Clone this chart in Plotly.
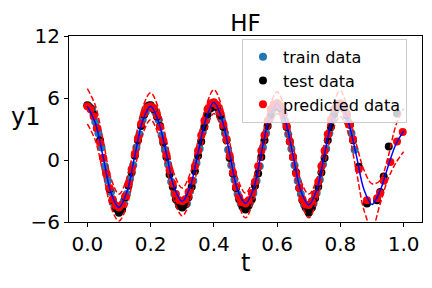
import plotly.graph_objects as go

# ---- data ----
line_t = [0.0, 0.025, 0.05, 0.075, 0.1, 0.125, 0.15, 0.175, 0.2, 0.225,
          0.25, 0.275, 0.3, 0.325, 0.35, 0.375, 0.4, 0.425, 0.45, 0.475,
          0.5, 0.525, 0.55, 0.575, 0.6, 0.625, 0.65, 0.675, 0.7, 0.725,
          0.75, 0.775, 0.8, 0.825, 0.85, 0.875, 0.9, 0.925, 0.95, 0.975, 1.0]
mean_y = [5.2, 3.6, 0.3, -3.2, -4.6, -3.1, 0.4, 3.8, 5.2, 3.7,
          0.6, -2.7, -4.0, -2.6, 0.7, 4.0, 5.6, 4.0, 0.6, -2.9,
          -4.2, -2.8, 0.7, 4.0, 5.5, 3.9, 0.5, -3.0, -4.35, -2.9,
          0.6, 4.0, 5.5, 3.7, 0.5, -2.9, -4.3, -3.0, -0.7, 1.5, 2.8]
upper_y = [6.9, 5.3, 1.9, -1.8, -3.3, -1.8, 1.7, 5.1, 6.5, 5.0,
           1.9, -1.4, -2.7, -1.3, 1.9, 5.2, 6.8, 5.2, 1.7, -1.8,
           -3.2, -1.8, 1.7, 5.0, 6.6, 4.9, 1.5, -2.0, -3.3, -1.9,
           1.7, 5.2, 6.7, 4.6, 1.6, -1.0, -2.3, -2.0, 0.2, 3.3, 5.0]
lower_y = [3.5, 1.9, -1.3, -4.6, -5.9, -4.4, -0.9, 2.5, 3.9, 2.4,
           -0.7, -4.0, -5.4, -3.9, -0.5, 2.8, 4.5, 2.9, -0.5, -4.0,
           -5.6, -3.9, -0.3, 3.0, 4.5, 2.9, -0.5, -4.0, -5.6, -4.0,
           -0.5, 2.8, 4.2, 2.6, -1.0, -4.9, -6.6, -4.3, -1.9, -0.3, 0.8]

train_t = [0.005, 0.015, 0.025, 0.035, 0.045, 0.055, 0.065, 0.075, 0.085, 0.095,
           0.105, 0.115, 0.125, 0.135, 0.145, 0.155, 0.165, 0.175, 0.185, 0.195,
           0.205, 0.215, 0.225, 0.235, 0.245, 0.255, 0.265, 0.275, 0.285, 0.295,
           0.305, 0.315, 0.325, 0.335, 0.345, 0.355, 0.365, 0.375, 0.385, 0.395,
           0.405, 0.415, 0.425, 0.435, 0.445, 0.455, 0.465, 0.475, 0.485, 0.495,
           0.505, 0.515, 0.525, 0.535, 0.545, 0.555, 0.565, 0.575, 0.585, 0.595,
           0.605, 0.615, 0.625, 0.635, 0.645, 0.655, 0.665, 0.675, 0.685, 0.695,
           0.705, 0.715, 0.725, 0.735, 0.745, 0.755, 0.765, 0.775, 0.785, 0.795,
           0.805, 0.815, 0.825, 0.835, 0.845]
train_y = [5.2, 4.9, 3.7, 2.6, 1.2, -0.6, -2.0, -3.1, -4.3, -4.8,
           -4.7, -4.0, -3.3, -1.8, -0.5, 1.2, 2.5, 3.9, 4.7, 5.3,
           5.1, 4.6, 3.9, 2.4, 1.0, -0.4, -2.1, -3.3, -4.0, -4.5,
           -4.4, -4.2, -3.0, -2.0, -0.3, 1.1, 2.7, 3.8, 4.9, 5.4,
           5.4, 4.8, 3.9, 2.6, 1.0, -0.5, -1.9, -3.3, -4.2, -4.6,
           -4.6, -4.1, -3.2, -2.0, -0.6, 1.2, 2.6, 3.9, 4.8, 5.4,
           5.3, 4.7, 3.8, 2.5, 1.1, -0.5, -2.0, -3.3, -4.3, -4.8,
           -4.7, -4.2, -3.2, -1.9, -0.4, 1.1, 2.6, 3.9, 4.8, 5.3,
           5.2, 4.8, 3.7, 2.6, 1.0]

test_t = [0.0, 0.01, 0.02, 0.03, 0.04, 0.05, 0.06, 0.07, 0.08, 0.09,
          0.1, 0.11, 0.12, 0.13, 0.14, 0.15, 0.16, 0.17, 0.18, 0.19,
          0.2, 0.21, 0.22, 0.23, 0.24, 0.25, 0.26, 0.27, 0.28, 0.29,
          0.3, 0.31, 0.32, 0.33, 0.34, 0.35, 0.36, 0.37, 0.38, 0.39,
          0.4, 0.41, 0.42, 0.43, 0.44, 0.45, 0.46, 0.47, 0.48, 0.49,
          0.5, 0.51, 0.52, 0.53, 0.54, 0.55, 0.56, 0.57, 0.58, 0.59,
          0.6, 0.61, 0.62, 0.63, 0.64, 0.65, 0.66, 0.67, 0.68, 0.69,
          0.7, 0.71, 0.72, 0.73, 0.74, 0.75, 0.76, 0.77, 0.78, 0.79,
          0.8, 0.81, 0.82, 0.83, 0.84, 0.858, 0.884, 0.916, 0.926, 0.937,
          0.953, 0.979]
test_y = [5.3, 5.0, 4.4, 3.1, 1.9, 0.2, -1.3, -2.8, -3.9, -4.7,
          -5.1, -4.8, -3.6, -2.5, -1.2, 0.4, 1.9, 3.3, 4.4, 5.2,
          5.3, 4.9, 4.2, 3.3, 1.7, 0.3, -1.4, -2.6, -3.8, -4.4,
          -4.6, -4.3, -3.6, -2.6, -1.1, 0.4, 1.8, 3.2, 4.4, 5.0,
          5.4, 5.1, 4.3, 3.2, 1.9, 0.2, -1.3, -2.7, -3.8, -4.5,
          -4.8, -4.4, -3.8, -2.5, -1.3, 0.3, 1.9, 3.3, 4.3, 5.1,
          5.5, 5.0, 4.4, 3.2, 1.8, 0.3, -1.2, -2.7, -3.9, -4.6,
          -5.1, -4.6, -3.7, -2.6, -1.2, 0.2, 1.9, 3.2, 4.4, 5.1,
          5.4, 5.0, 4.3, 3.4, 1.9, -0.65, -4.2, -3.9, -3.1, -1.6,
          1.3, 4.5]

pred_t = [0.0, 0.01, 0.02, 0.03, 0.04, 0.05, 0.06, 0.07, 0.08, 0.09,
          0.1, 0.11, 0.12, 0.13, 0.14, 0.15, 0.16, 0.17, 0.18, 0.19,
          0.2, 0.21, 0.22, 0.23, 0.24, 0.25, 0.26, 0.27, 0.28, 0.29,
          0.3, 0.31, 0.32, 0.33, 0.34, 0.35, 0.36, 0.37, 0.38, 0.39,
          0.4, 0.41, 0.42, 0.43, 0.44, 0.45, 0.46, 0.47, 0.48, 0.49,
          0.5, 0.51, 0.52, 0.53, 0.54, 0.55, 0.56, 0.57, 0.58, 0.59,
          0.6, 0.61, 0.62, 0.63, 0.64, 0.65, 0.66, 0.67, 0.68, 0.69,
          0.7, 0.71, 0.72, 0.73, 0.74, 0.75, 0.76, 0.77, 0.78, 0.79,
          0.8, 0.81, 0.82, 0.83, 0.84, 0.858, 0.884, 0.916, 0.926, 0.937,
          0.958, 0.979, 0.997]
pred_y = [5.2, 4.9, 4.2, 3.1, 1.7, 0.2, -1.3, -2.7, -3.8, -4.4,
          -4.6, -4.3, -3.5, -2.3, -0.9, 0.6, 2.1, 3.5, 4.5, 5.1,
          5.2, 5.0, 4.3, 3.2, 1.9, 0.5, -1.0, -2.3, -3.3, -3.9,
          -4.0, -3.8, -3.1, -2.0, -0.6, 0.9, 2.4, 3.8, 4.9, 5.5,
          5.6, 5.3, 4.6, 3.4, 2.0, 0.4, -1.2, -2.6, -3.6, -4.1,
          -4.2, -3.9, -3.2, -2.1, -0.6, 0.9, 2.4, 3.8, 4.9, 5.4,
          5.5, 5.2, 4.4, 3.3, 1.8, 0.3, -1.3, -2.7, -3.8, -4.3,
          -4.35, -4.0, -3.3, -2.1, -0.6, 0.9, 2.5, 3.9, 4.9, 5.4,
          5.5, 5.2, 4.5, 3.4, 2.0, -0.9, -3.9, -3.7, -3.2, -2.0,
          -0.2, 1.8, 2.7]

x_ticks = [0.0, 0.2, 0.4, 0.6, 0.8, 1.0]
x_tick_text = ["0.0", "0.2", "0.4", "0.6", "0.8", "1.0"]
y_ticks = [-6, 0, 6, 12]
y_tick_text = ["\u22126", "0", "6", "12"]

FONT = "DejaVu Sans"
MS = 8

fig = go.Figure()
fig.add_trace(go.Scatter(x=train_t, y=train_y, mode="markers", name="train data",
                         marker=dict(color="#1f77b4", size=MS, line=dict(width=0))))
fig.add_trace(go.Scatter(x=test_t, y=test_y, mode="markers", name="test data",
                         marker=dict(color="black", size=MS, line=dict(width=0))))
fig.add_trace(go.Scatter(x=pred_t, y=pred_y, mode="markers", name="predicted data",
                         marker=dict(color="red", size=MS, line=dict(width=0))))
fig.add_trace(go.Scatter(x=line_t, y=mean_y, mode="lines", showlegend=False,
                         line=dict(color="blue", width=1.5, shape="spline")))
fig.add_trace(go.Scatter(x=line_t, y=upper_y, mode="lines", showlegend=False,
                         line=dict(color="red", width=1.5, dash="5.5px,2.4px", shape="spline")))
fig.add_trace(go.Scatter(x=line_t, y=lower_y, mode="lines", showlegend=False,
                         line=dict(color="red", width=1.5, dash="5.5px,2.4px", shape="spline")))

axis_common = dict(showgrid=False, zeroline=False, showline=True, linecolor="black",
                   linewidth=1, mirror=True, ticks="outside", ticklen=4, tickwidth=1,
                   tickcolor="black", automargin=False,
                   tickfont=dict(family=FONT, size=20, color="black"))

fig.update_layout(
    width=432, height=288,
    margin=dict(l=69, r=10, t=36, b=66, autoexpand=False),
    paper_bgcolor="white", plot_bgcolor="white",
    font=dict(family=FONT, color="black"),
    title=dict(text="HF", x=0.5, xref="paper", xanchor="center",
               y=1 - 23 / 288, yanchor="middle", font=dict(family=FONT, size=23)),
    xaxis=dict(range=[-0.058, 1.058], tickvals=x_ticks, ticktext=x_tick_text, **axis_common),
    yaxis=dict(range=[-6, 12], tickvals=y_ticks, ticktext=y_tick_text, **axis_common),
    legend=dict(x=0.49, y=0.985, xanchor="left", yanchor="top",
                bgcolor="rgba(255,255,255,0.8)", bordercolor="#cccccc", borderwidth=1,
                font=dict(family=FONT, size=16), tracegroupgap=0),
    showlegend=True,
    annotations=[
        dict(text="y1", xref="paper", yref="paper", x=-0.122, y=0.565,
             xanchor="center", yanchor="middle", showarrow=False,
             font=dict(family=FONT, size=24)),
        dict(text="t", xref="paper", yref="paper", x=0.5, y=-0.22,
             xanchor="center", yanchor="middle", showarrow=False,
             font=dict(family=FONT, size=24)),
    ],
)

fig.write_html("out.html", config={"displayModeBar": False},
               post_script="document.body.style.margin='0';document.body.style.padding='0';")
